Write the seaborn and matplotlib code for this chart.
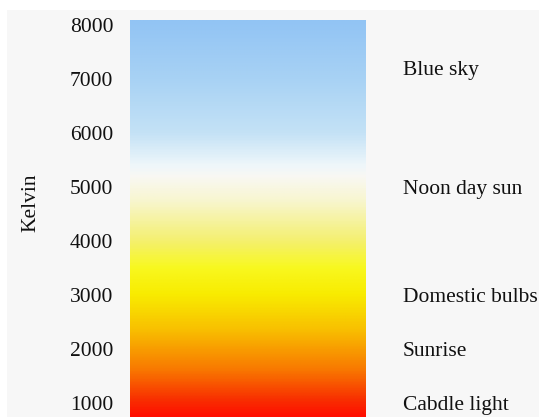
import numpy as np
import matplotlib
matplotlib.use("Agg")
import matplotlib.pyplot as plt
import seaborn as sns
from matplotlib.colors import LinearSegmentedColormap

# ---- data ----
kelvin_ticks = [1000, 2000, 3000, 4000, 5000, 6000, 7000, 8000]
source_labels = ["Cabdle light", "Sunrise", "Domestic bulbs", "Noon day sun", "Blue sky"]
source_kelvin = [1000, 2000, 3000, 5000, 7200]
bar_bottom, bar_top = 740, 8075
stop_kelvin = [740, 800, 1050, 1600, 2350, 3000, 3500, 4000, 4750, 5200, 5400, 6000, 7000, 8075]
stop_colors = ["#ff0e00", "#fe1400", "#f83000", "#f87800", "#f8c000", "#f8ec00", "#f8f820",
               "#f4f070", "#f8f6d0", "#f8f8f4", "#eef6fa", "#c4e2f6", "#a8d2f4", "#92c4f4"]

sns.set_theme(style="white")
plt.rcParams["font.family"] = ["Liberation Serif", "DejaVu Serif"]

W, H = 539, 417
fig = plt.figure(figsize=(W / 100, H / 100), dpi=100)

# grey panel behind everything
bg = fig.add_axes([7 / W, 0, (W - 7) / W, (H - 10) / H], zorder=-5)
bg.set_facecolor("#f7f7f7")
bg.set_xticks([])
bg.set_yticks([])
for s in bg.spines.values():
    s.set_visible(False)

ax = fig.add_axes([130 / W, 0, (W - 130) / W, (H - 10) / H], zorder=1)
ax.patch.set_alpha(0)

norm_pos = [(k - bar_bottom) / (bar_top - bar_bottom) for k in stop_kelvin]
cmap = LinearSegmentedColormap.from_list("kelvin", list(zip(norm_pos, stop_colors)))
grad = np.linspace(bar_bottom, bar_top, 400).reshape(-1, 1)
ax.imshow(grad, cmap=cmap, vmin=bar_bottom, vmax=bar_top, origin="lower",
          extent=[0, 0.5746, bar_bottom, bar_top], aspect="auto", interpolation="bilinear")
ax.set_xlim(0, 1)
ax.set_ylim(741, 8278)

ax.set_yticks(kelvin_ticks)
ax.set_yticklabels([str(k) for k in kelvin_ticks])
ax.set_xticks([])
ax.tick_params(axis="y", length=0, pad=12, labelsize=15.5, labelcolor="#111111")
for s in ax.spines.values():
    s.set_visible(False)

ax.set_ylabel("Kelvin", fontsize=15.5, color="#111111")
ax.yaxis.set_label_coords(-0.22, 0.526)

for lab, k in zip(source_labels, source_kelvin):
    ax.text(0.667, k, lab, ha="left", va="center_baseline", fontsize=15.5, color="#111111")

fig.savefig("out.png", dpi=100)
